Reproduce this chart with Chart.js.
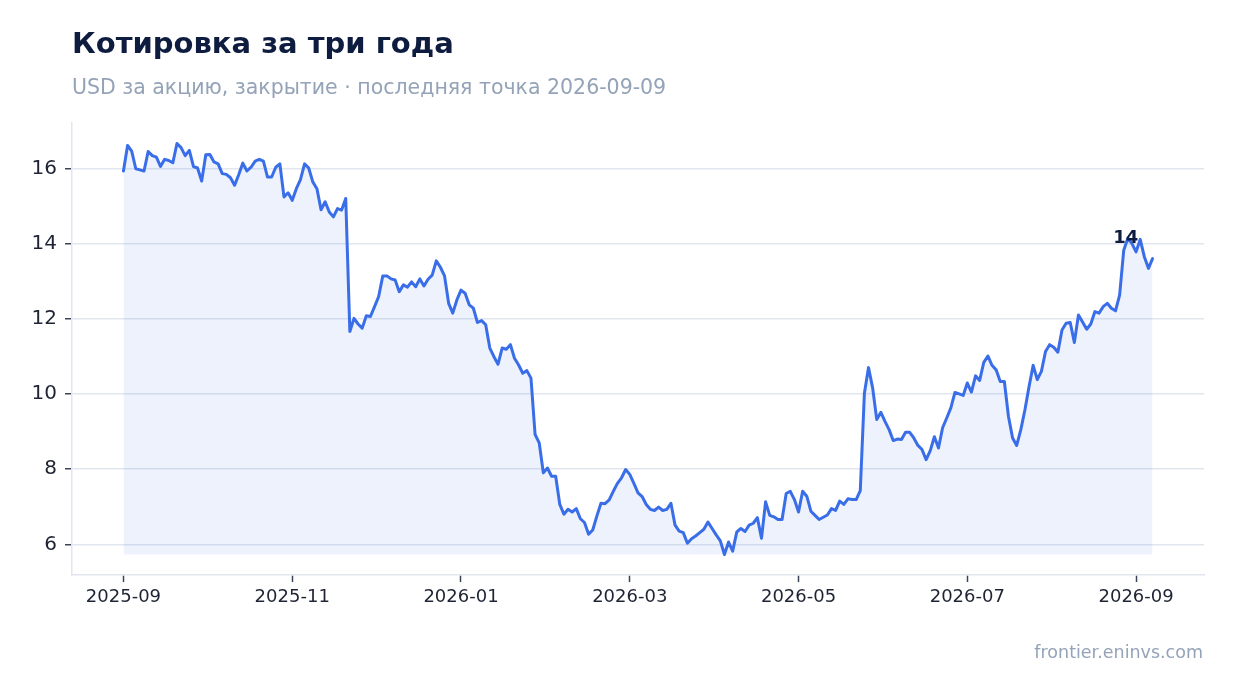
<!DOCTYPE html>
<html>
<head>
<meta charset="utf-8">
<script src="https://cdn.jsdelivr.net/npm/chart.js@4.4.1/dist/chart.umd.min.js"></script>
<style>
  html, body { margin: 0; padding: 0; background: #ffffff; }
  #wrap { position: relative; width: 1234px; height: 693px; overflow: hidden; }
  #chart { position: absolute; left: 0; top: 0; }
  .txt { position: absolute; white-space: nowrap; font-family: "DejaVu Sans", sans-serif; line-height: normal; }
  #title { left: 72px; top: 26px; font-size: 29px; font-weight: 700; color: #0e1c3f; }
  #subtitle { left: 72px; top: 75px; font-size: 20.5px; color: #94a3b8; }
  #footer { right: 31px; top: 642px; font-size: 17.5px; color: #94a3b8; }
</style>
</head>
<body>
<div id="wrap">
  <canvas id="chart" width="1234" height="693"></canvas>
  <div class="txt" id="title">Котировка за три года</div>
  <div class="txt" id="subtitle">USD за акцию, закрытие · последняя точка 2026-09-09</div>
  <div class="txt" id="footer">frontier.eninvs.com</div>
</div>
<script>
// Closing prices, evenly spaced observations (index 0 .. N-1)
const prices = [
  15.93, 16.61, 16.46, 15.99, 15.96, 15.93, 16.45, 16.34, 16.30, 16.05,
  16.24, 16.21, 16.15, 16.66, 16.55, 16.34, 16.48, 16.05, 16.01, 15.66,
  16.36, 16.37, 16.17, 16.12, 15.86, 15.84, 15.75, 15.55, 15.83, 16.14,
  15.93, 16.03, 16.19, 16.24, 16.19, 15.77, 15.77, 16.03, 16.12, 15.24,
  15.35, 15.15, 15.46, 15.70, 16.12, 16.01, 15.64, 15.46, 14.90, 15.11,
  14.84, 14.71, 14.93, 14.89, 15.20,
  11.66, 12.01, 11.86, 11.75, 12.08, 12.06, 12.32, 12.59, 13.14, 13.14,
  13.06, 13.03, 12.72, 12.90, 12.84, 12.98, 12.85, 13.06, 12.87, 13.05,
  13.16, 13.54, 13.37, 13.14, 12.41, 12.15, 12.50, 12.76, 12.68, 12.37,
  12.28, 11.90, 11.95, 11.84, 11.22, 10.99, 10.79, 11.22, 11.19, 11.31,
  10.95, 10.77, 10.55, 10.62, 10.42,
  8.92, 8.70, 7.90, 8.03, 7.81, 7.81, 7.06, 6.80, 6.93, 6.86,
  6.95, 6.68, 6.58, 6.27, 6.38, 6.75, 7.09, 7.08, 7.18, 7.41,
  7.62, 7.77, 7.99, 7.86, 7.62, 7.37, 7.27, 7.06, 6.93, 6.90,
  6.99, 6.90, 6.93, 7.09, 6.51, 6.35, 6.31, 6.03, 6.15, 6.22,
  6.31, 6.40, 6.59, 6.42, 6.25, 6.09, 5.73, 6.06, 5.82, 6.33,
  6.42, 6.34, 6.51, 6.56, 6.71, 6.16, 7.13, 6.77, 6.73, 6.66,
  6.66, 7.35, 7.41, 7.19, 6.86,
  7.41, 7.28, 6.88, 6.77, 6.66, 6.72, 6.78, 6.95, 6.90, 7.15,
  7.06, 7.21, 7.19, 7.19, 7.43, 10.02, 10.70, 10.16, 9.32, 9.51,
  9.27, 9.05, 8.76, 8.80, 8.79, 8.98, 8.98, 8.83, 8.63, 8.52,
  8.25, 8.49, 8.86, 8.56, 9.10, 9.36, 9.63, 10.04, 10.00, 9.96,
  10.29, 10.05, 10.48, 10.36, 10.84, 11.01, 10.76, 10.64, 10.33, 10.33,
  9.40, 8.83, 8.63, 9.05, 9.58, 10.20, 10.76, 10.38, 10.60, 11.13,
  11.31, 11.24, 11.11, 11.70, 11.88, 11.90, 11.37, 12.10, 11.91, 11.72,
  11.86, 12.19, 12.15, 12.32, 12.41, 12.28, 12.21, 12.63, 13.82, 14.14,
  14.00, 13.78, 14.11, 13.65, 13.34, 13.60
];

// X tick positions (observation index) and their labels
const xTickIndex  = [0, 41, 82, 123, 164, 205, 246];
const xTickLabels = ['2025-09', '2025-11', '2026-01', '2026-03', '2026-05', '2026-07', '2026-09'];

// Y tick values
const yTicks = [6, 8, 10, 12, 14, 16];

// Annotation on recent high
const annotIndex = 244;
const annotText = '14';

const LINE = '#3a6ee8';
const FILL = 'rgba(58,110,232,0.09)';
const GRID = '#e2e6ef';
const TICKMARK = '#3b4456';
const LABEL = '#1e2433';
const FONT = '"DejaVu Sans", sans-serif';

const n = prices.length;
const pMin = Math.min(...prices), pMax = Math.max(...prices);
const yPad = (pMax - pMin) * 0.05;
const xPad = (n - 1) * 0.05;

const points = prices.map((v, i) => ({ x: i, y: v }));

const annotPlugin = {
  id: 'annot',
  afterDatasetsDraw(chart) {
    const meta = chart.getDatasetMeta(0);
    const el = meta.data[annotIndex];
    if (!el) return;
    const ctx = chart.ctx;
    ctx.save();
    ctx.font = 'bold 18px ' + FONT;
    ctx.fillStyle = '#0e1c3f';
    ctx.textAlign = 'center';
    ctx.textBaseline = 'middle';
    ctx.fillText(annotText, el.x - 2, el.y);
    ctx.restore();
  }
};

new Chart(document.getElementById('chart'), {
  type: 'line',
  data: {
    datasets: [{
      data: points,
      borderColor: LINE,
      borderWidth: 3,
      backgroundColor: FILL,
      fill: { value: pMin },
      pointRadius: 0,
      tension: 0,
      borderJoinStyle: 'round',
      borderCapStyle: 'round'
    }]
  },
  options: {
    responsive: false,
    animation: false,
    devicePixelRatio: 1,
    layout: { padding: { top: 123, right: 30, bottom: 0, left: 0 } },
    plugins: { legend: { display: false }, tooltip: { enabled: false }, title: { display: false } },
    scales: {
      x: {
        type: 'linear',
        min: -xPad,
        max: (n - 1) + xPad,
        afterBuildTicks(scale) { scale.ticks = xTickIndex.map(v => ({ value: v })); },
        afterFit(scale) { scale.height = 118; },
        ticks: {
          autoSkip: false,
          maxRotation: 0,
          padding: 5,
          color: LABEL,
          font: { family: FONT, size: 18 },
          callback(value) { const k = xTickIndex.indexOf(value); return k >= 0 ? xTickLabels[k] : ''; }
        },
        grid: { drawOnChartArea: false, drawTicks: true, tickLength: 7, tickColor: TICKMARK, tickWidth: 1.5 },
        border: { display: true, color: GRID, width: 1.5 }
      },
      y: {
        type: 'linear',
        min: pMin - yPad,
        max: pMax + yPad,
        afterBuildTicks(scale) { scale.ticks = yTicks.map(v => ({ value: v })); },
        afterFit(scale) { scale.width = 72; },
        ticks: {
          padding: 8,
          color: LABEL,
          font: { family: FONT, size: 20 },
          callback(value) { return String(value); }
        },
        grid: { drawOnChartArea: true, color: GRID, lineWidth: 1.5, drawTicks: true, tickLength: 7, tickColor: TICKMARK, tickWidth: 1.5 },
        border: { display: true, color: GRID, width: 1.5 }
      }
    }
  },
  plugins: [annotPlugin]
});
</script>
</body>
</html>
